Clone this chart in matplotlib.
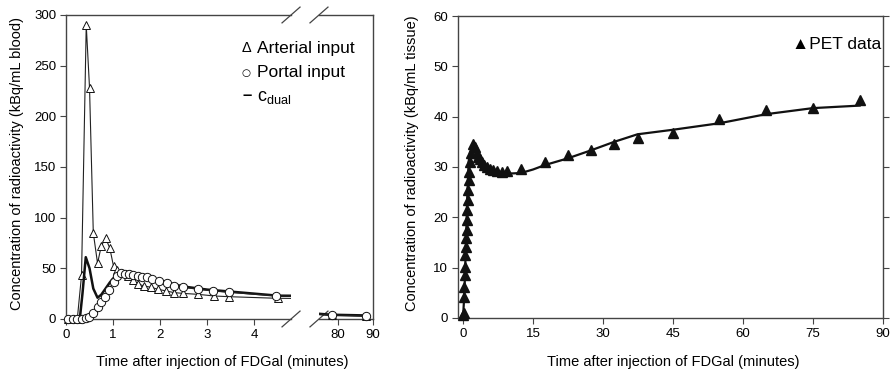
"""
Dual-input blood curves (left, broken time axis) and liver PET data with
model fit (right) after FDGal injection. Writes out.png.
"""

import matplotlib

matplotlib.use("Agg")
import matplotlib.pyplot as plt

plt.rcParams["font.family"] = ["Liberation Sans", "DejaVu Sans"]

# left panel: blood input curves (minutes, kBq/mL blood)
art_t = [0.05, 0.15, 0.24, 0.33, 0.43, 0.50, 0.58, 0.67, 0.75, 0.84, 0.93,
         1.01, 1.09, 1.20, 1.32, 1.43, 1.53, 1.66, 1.80, 1.96, 2.13, 2.30,
         2.48, 2.81, 3.15, 3.47, 4.50, 78.2, 88.0]
art_v = [0, 0, 0, 43, 290, 228, 85, 55, 72, 80, 70,
         52, 48, 45, 42, 38, 34.5, 32.6, 31.3, 29.3, 27.6, 26,
         25.3, 24.3, 22.7, 22, 20.4, 3.5, 2.8]

por_t = [0.05, 0.15, 0.24, 0.33, 0.42, 0.49, 0.58, 0.67, 0.75, 0.83, 0.91,
         1.01, 1.09, 1.16, 1.25, 1.34, 1.43, 1.52, 1.62, 1.72, 1.82, 1.98,
         2.14, 2.30, 2.48, 2.81, 3.13, 3.47, 4.47, 78.2, 88.0]
por_v = [0, 0, 0, 0.3, 1.3, 2.3, 6.3, 11.5, 17, 22, 28.6,
         36.8, 42.8, 45, 44, 44, 43.4, 42.4, 41, 41, 39.5, 37.8,
         35.2, 32.9, 31.3, 29.3, 27.6, 26.3, 22.7, 4, 3]

dual_t = [0, 0.25, 0.30, 0.35, 0.42, 0.50, 0.58, 0.67, 0.75, 0.84, 0.93, 1.0,
          1.1, 1.2, 1.4, 1.6, 1.8, 2.0, 2.5, 3.0, 3.5, 4.5, 78.2, 88.0]
dual_v = [0, 0, 3, 25, 61, 50, 30, 21, 24, 30, 36, 40,
          43, 45, 44, 42, 40, 37.5, 32, 29, 27, 23, 4.2, 3.5]

# right panel: PET tissue data and fitted curve (kBq/mL tissue)
pet_t = [0.05, 0.12, 0.2, 0.28, 0.36, 0.44, 0.52, 0.6, 0.68, 0.76,
         0.84, 0.92, 1.0, 1.1, 1.2, 1.3, 1.45, 1.64, 2.07, 2.57,
         2.93, 3.29, 3.64, 4.0, 4.57, 5.07, 5.79, 6.5, 7.2, 8.3,
         9.4, 12.4, 17.6, 22.4, 27.4, 32.4, 37.4, 45.1, 54.9, 64.9,
         74.9, 85.0]
pet_v = [0.5, 1, 4.2, 6.2, 8.5, 10.2, 12.5, 14.2, 15.8, 17.5,
         19.5, 21.5, 23.4, 25.4, 27.4, 29, 31, 32.7, 34.6, 33.9,
         32.7, 32, 31.6, 30.9, 30.3, 29.9, 29.6, 29.4, 29.2, 29,
         29.2, 29.7, 31, 32.3, 33.3, 34.5, 35.7, 36.7, 39.6, 41.3,
         41.7, 43.3]

fit_t = [0, 0.3, 0.6, 0.9, 1.2, 1.5, 2.0, 2.5, 3.0, 4.0, 5.0, 6.0, 7.0, 8.0,
         10.0, 12.4, 15.0, 17.6, 22.4, 27.4, 32.4, 37.4, 45.0, 55.0, 65.0,
         75.0, 85.0]
fit_v = [0, 5, 14, 24, 31, 33, 33.8, 33.3, 32.5, 31, 30, 29.3, 29, 28.8,
         28.7, 28.8, 29.5, 30.4, 31.7, 33.3, 35, 36.5, 37.4, 38.7, 40.5,
         41.7, 42.2]

left_ticks_a = [0, 1, 2, 3, 4]
left_ticks_b = [80, 90]
left_yticks = [0, 50, 100, 150, 200, 250, 300]
right_xticks = [0, 15, 30, 45, 60, 75, 90]
right_yticks = [0, 10, 20, 30, 40, 50, 60]

XLABEL = "Time after injection of FDGal (minutes)"
SPINE = "#444444"
TICK_FS = 9.5
LABEL_FS = 10.5


def style(ax):
    for s in ax.spines.values():
        s.set_color(SPINE)
        s.set_linewidth(1.0)
    ax.tick_params(direction="out", length=4, width=0.8, color=SPINE,
                   labelsize=TICK_FS, pad=3)


def in_range(t, v, lo, hi):
    pairs = [(a, b) for a, b in zip(t, v) if lo <= a <= hi]
    return [p[0] for p in pairs], [p[1] for p in pairs]


def draw_blood(ax, lo, hi):
    ax.set_xlim(lo, hi)
    ax.set_ylim(0, 300)
    ax.plot(art_t, art_v, color="#222222", lw=0.8, zorder=3)
    ax.plot(dual_t, dual_v, color="#111111", lw=1.8, zorder=4)
    ax.plot(por_t, por_v, color="#222222", lw=0.8, zorder=5)
    # markers are not clipped, so points sitting on the axis stay whole
    t, v = in_range(art_t, art_v, lo, hi)
    ax.plot(t, v, ls="none", marker="^", ms=5.5, mfc="white", mec="#111111",
            mew=0.7, zorder=3.5, clip_on=False)
    t, v = in_range(por_t, por_v, lo, hi)
    ax.plot(t, v, ls="none", marker="o", ms=6, mfc="white", mec="#111111",
            mew=0.7, zorder=5.5, clip_on=False)


fig = plt.figure(figsize=(8.93, 3.73), dpi=100)
bottom, height = 0.1448, 0.815
ax1 = fig.add_axes([0.0739, bottom, 0.252, height])
ax2 = fig.add_axes([0.3572, bottom, 0.0605, height])
ax3 = fig.add_axes([0.5129, 0.1475, 0.4759, 0.8096])

# left panel, broken x axis
draw_blood(ax1, 0, 4.78)
draw_blood(ax2, 74.6, 90)
for ax in (ax1, ax2):
    style(ax)
ax1.spines["right"].set_visible(False)
ax2.spines["left"].set_visible(False)
ax1.set_xticks(left_ticks_a)
ax2.set_xticks(left_ticks_b)
ax1.set_yticks(left_yticks)
ax2.tick_params(left=False, labelleft=False)

# break marks
dx1, dy = 0.04, 0.026
dx2 = dx1 * 0.252 / 0.0605
kw = dict(color=SPINE, lw=0.9, clip_on=False)
for yy in (0, 1):
    ax1.plot([1 - dx1, 1 + dx1], [yy - dy, yy + dy], transform=ax1.transAxes, **kw)
    ax2.plot([-dx2, dx2], [yy - dy, yy + dy], transform=ax2.transAxes, **kw)

# legend of left panel, as text
fig.text(247 / 893, 1 - 48 / 373, "\u0394", fontsize=10.5, ha="center", va="center")
fig.text(257 / 893, 1 - 48 / 373, "Arterial input", fontsize=12.5, ha="left", va="center")
fig.text(246 / 893, 1 - 73 / 373, "\u25cb", fontsize=7.5, ha="center", va="center",
         family=["DejaVu Sans"])
fig.text(257 / 893, 1 - 73 / 373, "Portal input", fontsize=12.5, ha="left", va="center")
fig.text(247 / 893, 1 - 95 / 373, "\u2013", fontsize=12, fontweight="bold",
         ha="center", va="center")
fig.text(257 / 893, 1 - 98 / 373, r"c$_{\mathregular{dual}}$", fontsize=13,
         ha="left", va="center")

fig.text(222 / 893, 1 - 362 / 373, XLABEL, fontsize=LABEL_FS, ha="center", va="center")
fig.text(17 / 893, 1 - 163 / 373, "Concentration of radioactivity (kBq/mL blood)",
         fontsize=LABEL_FS, rotation=90, ha="center", va="center")

# right panel
ax3.set_xlim(-1.07, 90)
ax3.set_ylim(0, 60)
ax3.plot(fit_t, fit_v, color="#111111", lw=1.6, zorder=3)
ax3.plot(pet_t, pet_v, ls="none", marker="^", ms=7, color="#111111", zorder=4,
         clip_on=False)
ax3.set_xticks(right_xticks)
ax3.set_yticks(right_yticks)
style(ax3)
ax3.tick_params(axis="y", right=True, labelright=False)
ax3.text(0.995, 0.905, "\u25b2PET data", transform=ax3.transAxes, fontsize=12.5,
         ha="right", va="center")

fig.text(673 / 893, 1 - 362 / 373, XLABEL, fontsize=LABEL_FS, ha="center", va="center")
fig.text(412 / 893, 1 - 163 / 373, "Concentration of radioactivity (kBq/mL tissue)",
         fontsize=LABEL_FS, rotation=90, ha="center", va="center")

fig.savefig("out.png", dpi=100)
plt.close(fig)
